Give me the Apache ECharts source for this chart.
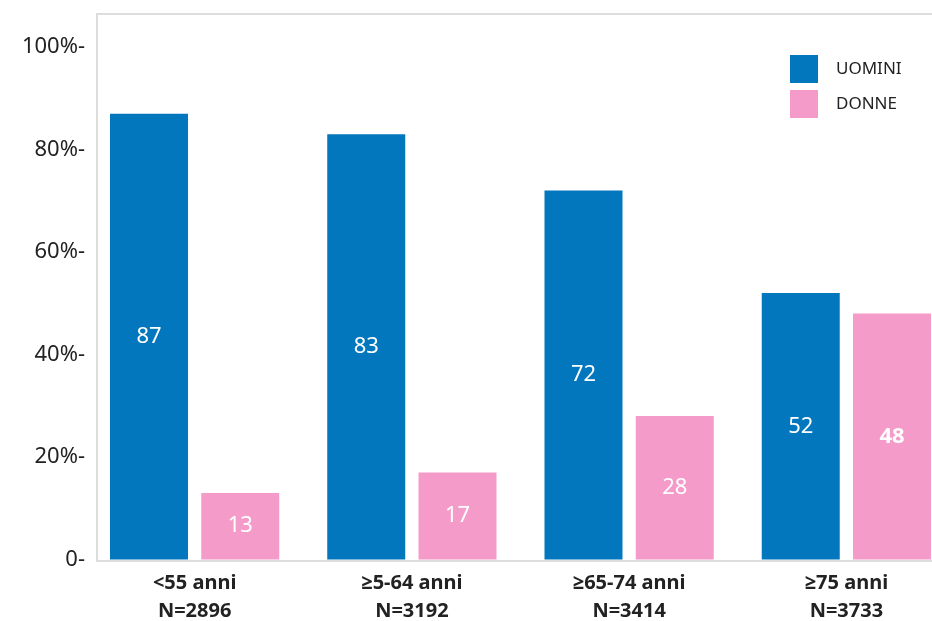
<!DOCTYPE html>
<html>
<head>
<meta charset="utf-8">
<style>
  html, body { margin: 0; padding: 0; background: #fff; }
  #chart { width: 932px; height: 621px; }
</style>
<script src="https://cdn.jsdelivr.net/npm/echarts@6/dist/echarts.min.js"></script>
</head>
<body>
<div id="chart"></div>
<script>
// Age groups with sample sizes
const categories = ['<55 anni\nN=2896', '≥5-64 anni\nN=3192', '≥65-74 anni\nN=3414', '≥75 anni\nN=3733'];
// Share of men and women per age group (%)
const uomini = [87, 83, 72, 52];
const donne = [13, 17, 28, 48];
const yTicks = [0, 20, 40, 60, 80, 100];

const BLUE = '#0277BD';
const PINK = '#F59BCA';
const FONT = '"Noto Sans", "Open Sans", sans-serif';

const chart = echarts.init(document.getElementById('chart'));

chart.setOption({
  animation: false,
  backgroundColor: '#fff',
  // light frame around the plot
  graphic: [{
    type: 'rect',
    z: 0,
    silent: true,
    shape: { x: 97, y: 14, width: 1000, height: 547 },
    style: { fill: 'none', stroke: '#dddddd', lineWidth: 2 }
  }],
  grid: {
    left: 86, top: 47, bottom: 61.5, width: 869,
    containLabel: false,
    outerBoundsMode: 'none'
  },
  legend: {
    orient: 'vertical',
    left: 785, top: 50,
    itemWidth: 28, itemHeight: 28, itemGap: 7,
    icon: 'rect',
    textStyle: { color: '#222', fontFamily: FONT, fontSize: 17, padding: [0, 0, 0, 13] },
    data: ['UOMINI', 'DONNE']
  },
  xAxis: {
    type: 'category',
    data: categories,
    axisLine: { show: false },
    axisTick: { show: false },
    axisLabel: {
      color: '#222', fontFamily: FONT, fontSize: 20, fontWeight: 'bold',
      lineHeight: 28, margin: 10, interval: 0
    }
  },
  yAxis: {
    type: 'value',
    min: 0, max: 100, interval: 20,
    axisLine: { show: false },
    axisTick: { show: false },
    splitLine: { show: false },
    axisLabel: {
      color: '#222', fontFamily: FONT, fontSize: 22, margin: 1,
      formatter: (v) => yTicks.includes(v) ? (v === 0 ? '0-' : v + '%-') : ''
    }
  },
  series: [
    {
      name: 'UOMINI', type: 'bar', data: uomini,
      barWidth: 78, barGap: '17%',
      itemStyle: { color: BLUE },
      label: {
        show: true, position: 'inside', color: '#fff',
        fontFamily: FONT, fontSize: 22
      }
    },
    {
      name: 'DONNE', type: 'bar', data: donne,
      barWidth: 78,
      itemStyle: { color: PINK },
      label: {
        show: true, position: 'inside', color: '#fff',
        fontFamily: FONT, fontSize: 22,
        formatter: (p) => p.dataIndex === donne.length - 1 ? '{b|' + p.value + '}' : String(p.value),
        rich: { b: { color: '#fff', fontFamily: FONT, fontSize: 22, fontWeight: 'bold' } }
      }
    }
  ]
});
</script>
</body>
</html>
